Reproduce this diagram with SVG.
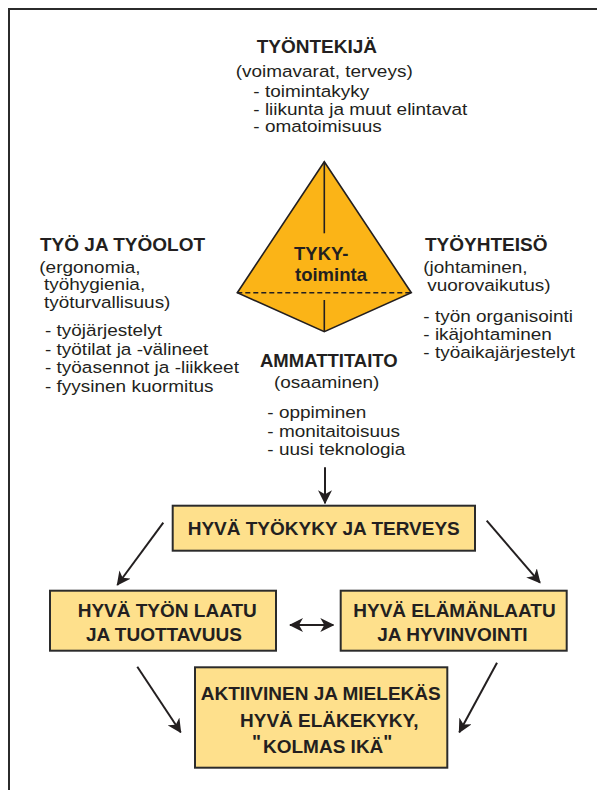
<svg xmlns="http://www.w3.org/2000/svg" width="597" height="790" viewBox="0 0 597 790">
<style>
text{font-family:"Liberation Sans",Arial,sans-serif;fill:#231f20;}
.h{font-size:19px;font-weight:bold;}
.t{font-size:16.5px;}
.bx{fill:#fee08c;stroke:#2b2b2b;stroke-width:2;}
.bt{font-size:19px;font-weight:bold;}
.c{stroke:#231f20;stroke-width:2;fill:none;}
.ln{stroke:#231f20;stroke-width:1.6;fill:none;}
</style>
<defs>
<marker id="ah" viewBox="0 0 14 14" refX="13" refY="7" markerWidth="14" markerHeight="14" markerUnits="userSpaceOnUse" orient="auto-start-reverse">
<path d="M0,0 L14,7 L0,14 L4,7 z" fill="#231f20"/>
</marker>
</defs>
<rect width="597" height="790" fill="#ffffff"/>
<path d="M9,800 L9,9 L600,9" fill="none" stroke="#2b2b2b" stroke-width="2"/>

<g id="tyontekija">
<text class="h" x="256.7" y="53">TYÖNTEKIJÄ</text>
<text class="t" transform="translate(235.7 0) scale(1.15 1)" y="77">(voimavarat, terveys)</text>
<text class="t" transform="translate(253.3 0) scale(1.15 1)" y="97">- toimintakyky</text>
<text class="t" transform="translate(253.3 0) scale(1.15 1)" y="115">- liikunta ja muut elintavat</text>
<text class="t" transform="translate(253.3 0) scale(1.15 1)" y="132.5">- omatoimisuus</text>
</g>

<g id="tyo-ja-tyoolot">
<text class="h" x="40" y="251">TYÖ JA TYÖOLOT</text>
<text class="t" transform="translate(39.3 0) scale(1.15 1)" y="273">(ergonomia,</text>
<text class="t" transform="translate(44 0) scale(1.15 1)" y="290.5">työhygienia,</text>
<text class="t" transform="translate(44 0) scale(1.15 1)" y="308.5">työturvallisuus)</text>
<text class="t" transform="translate(45 0) scale(1.15 1)" y="336.5">- työjärjestelyt</text>
<text class="t" transform="translate(45 0) scale(1.15 1)" y="355">- työtilat ja -välineet</text>
<text class="t" transform="translate(45 0) scale(1.15 1)" y="373.5">- työasennot ja -liikkeet</text>
<text class="t" transform="translate(45 0) scale(1.15 1)" y="392.5">- fyysinen kuormitus</text>
</g>

<g id="tyoyhteiso">
<text class="h" x="425" y="250.5">TYÖYHTEISÖ</text>
<text class="t" transform="translate(423.3 0) scale(1.15 1)" y="273">(johtaminen,</text>
<text class="t" transform="translate(427.3 0) scale(1.15 1)" y="290.7">vuorovaikutus)</text>
<text class="t" transform="translate(423.3 0) scale(1.15 1)" y="321.7">- työn organisointi</text>
<text class="t" transform="translate(423.3 0) scale(1.15 1)" y="340">- ikäjohtaminen</text>
<text class="t" transform="translate(423.3 0) scale(1.15 1)" y="358">- työaikajärjestelyt</text>
</g>

<g id="ammattitaito">
<text class="h" x="260" y="366.7" style="font-size:18.5px">AMMATTITAITO</text>
<text class="t" transform="translate(274 0) scale(1.15 1)" y="388.5">(osaaminen)</text>
<text class="t" transform="translate(267.3 0) scale(1.15 1)" y="418.3">- oppiminen</text>
<text class="t" transform="translate(267.3 0) scale(1.15 1)" y="436.7">- monitaitoisuus</text>
<text class="t" transform="translate(267.3 0) scale(1.15 1)" y="455">- uusi teknologia</text>
</g>

<g id="tyky-pyramid">
<polygon points="324.3,161.7 411.3,292.7 324.3,331.7 237.3,292.7" fill="#fbb417" stroke="#231f20" stroke-width="1.6" stroke-linejoin="miter"/>
<line class="ln" x1="324.3" y1="161.7" x2="324.3" y2="233.3"/>
<line class="ln" x1="324.3" y1="300" x2="324.3" y2="331.7"/>
<line class="ln" x1="237.3" y1="292.7" x2="411.3" y2="292.7" stroke-dasharray="5 3"/>
<text class="h" x="294" y="260" style="font-size:18.5px">TYKY-</text>
<text class="h" x="295" y="280.7" style="font-size:18.5px">toiminta</text>
</g>

<g id="box-tyokyky">
<rect class="bx" x="172.7" y="505.7" width="302.3" height="45"/>
<text class="bt" x="187.7" y="535">HYVÄ TYÖKYKY JA TERVEYS</text>
</g>

<g id="box-tyon-laatu">
<rect class="bx" x="50" y="590.7" width="226" height="60"/>
<text class="bt" x="77.7" y="617.3">HYVÄ TYÖN LAATU</text>
<text class="bt" x="86" y="640.5">JA TUOTTAVUUS</text>
</g>

<g id="box-elamanlaatu">
<rect class="bx" x="340.7" y="590.7" width="226" height="60"/>
<text class="bt" x="353.3" y="617.3">HYVÄ ELÄMÄNLAATU</text>
<text class="bt" x="377.3" y="640.5">JA HYVINVOINTI</text>
</g>

<g id="box-elakekyky">
<rect class="bx" x="195" y="667.3" width="252.3" height="100.4"/>
<text class="bt" x="200.7" y="700">AKTIIVINEN JA MIELEKÄS</text>
<text class="bt" x="240" y="726.7">HYVÄ ELÄKEKYKY,</text>
<text class="bt" x="252" y="753.3"><tspan dy="-5">"</tspan><tspan dx="2" dy="5">KOLMAS IKÄ</tspan><tspan dx="0" dy="-5">"</tspan></text>
</g>

<g id="connectors">
<line class="c" x1="325" y1="467.3" x2="325" y2="503.3" stroke-width="2.6" marker-end="url(#ah)"/>
<line class="c" x1="163.3" y1="522.7" x2="117.3" y2="585" marker-end="url(#ah)"/>
<line class="c" x1="486.7" y1="520.7" x2="540" y2="582.7" marker-end="url(#ah)"/>
<line class="c" x1="290" y1="625" x2="333.3" y2="625" stroke-width="2.6" marker-start="url(#ah)" marker-end="url(#ah)"/>
<line class="c" x1="137.3" y1="666.7" x2="180.7" y2="732.3" marker-end="url(#ah)"/>
<line class="c" x1="497" y1="662.7" x2="459.3" y2="732.3" marker-end="url(#ah)"/>
</g>
</svg>
